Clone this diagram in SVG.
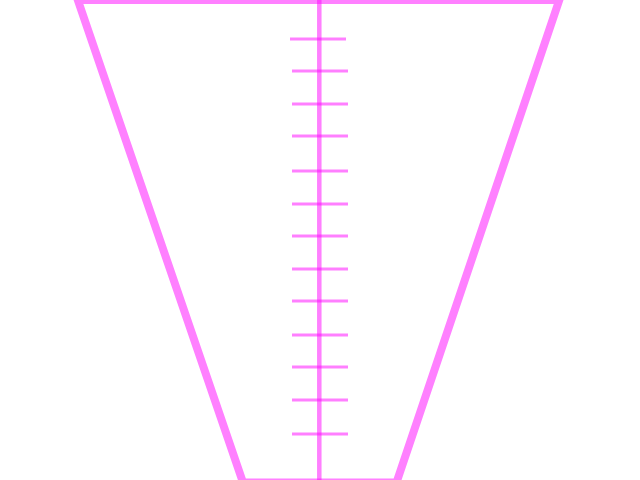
<svg xmlns="http://www.w3.org/2000/svg" width="640" height="480" viewBox="0 0 640 480">
<style>
.frame{fill:none;stroke:#ff80ff;stroke-width:8;stroke-linejoin:miter}
.axis{stroke:#ff00ff;stroke-opacity:0.5;stroke-width:4.5}
.tick{stroke:#ff00ff;stroke-opacity:0.5;stroke-width:3}
</style>
<rect width="640" height="480" fill="#ffffff"/>
<g id="frame">
<polygon class="frame" points="77.8,0 559.3,0 396.5,482.5 243,482.5"/>
</g>
<g id="scale">
<line class="axis" x1="319.3" y1="0" x2="319.3" y2="480"/>
<line class="tick" x1="290" y1="39" x2="346" y2="39"/>
<line class="tick" x1="292" y1="71" x2="348" y2="71"/>
<line class="tick" x1="292" y1="104" x2="348" y2="104"/>
<line class="tick" x1="292" y1="136" x2="348" y2="136"/>
<line class="tick" x1="292" y1="171" x2="348" y2="171"/>
<line class="tick" x1="292" y1="204" x2="348" y2="204"/>
<line class="tick" x1="292" y1="236" x2="348" y2="236"/>
<line class="tick" x1="292" y1="269" x2="348" y2="269"/>
<line class="tick" x1="292" y1="301" x2="348" y2="301"/>
<line class="tick" x1="292" y1="335" x2="348" y2="335"/>
<line class="tick" x1="292" y1="367" x2="348" y2="367"/>
<line class="tick" x1="292" y1="400" x2="348" y2="400"/>
<line class="tick" x1="292" y1="434" x2="348" y2="434"/>
</g>
</svg>
